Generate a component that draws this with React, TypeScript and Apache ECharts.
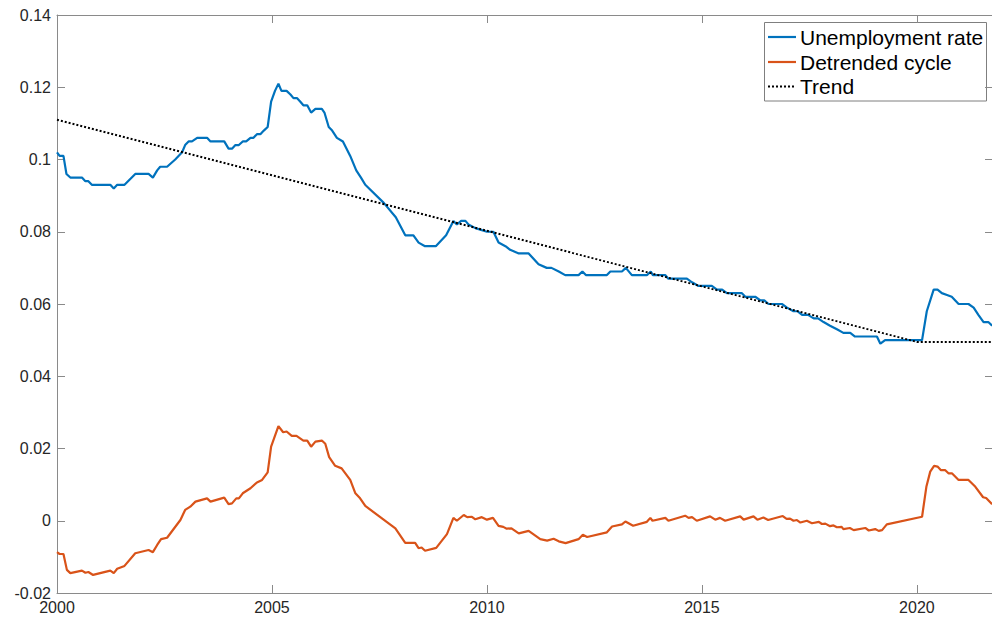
import React, { useEffect, useRef } from "react";
import * as echarts from "echarts";

// Unemployment rate (decimal year, value)
const uDates = [
  2000.0, 2000.06, 2000.15, 2000.22, 2000.31, 2000.58, 2000.66, 2000.73, 2000.81, 2001.24, 2001.32, 2001.4,
  2001.57, 2001.82, 2002.13, 2002.23, 2002.33, 2002.4, 2002.56, 2002.75, 2002.91, 2002.98, 2003.06, 2003.14,
  2003.26, 2003.49, 2003.57, 2003.89, 2003.99, 2004.07, 2004.15, 2004.23, 2004.32, 2004.4, 2004.5, 2004.57,
  2004.65, 2004.73, 2004.81, 2004.9, 2004.98, 2005.07, 2005.15, 2005.22, 2005.34, 2005.43, 2005.5, 2005.58,
  2005.66, 2005.73, 2005.82, 2005.91, 2006.01, 2006.16, 2006.22, 2006.32, 2006.4, 2006.51, 2006.65, 2006.82,
  2006.96, 2007.07, 2007.17, 2007.6, 2007.88, 2008.1, 2008.29, 2008.41, 2008.56, 2008.81, 2009.05, 2009.22,
  2009.3, 2009.4, 2009.5, 2009.57, 2009.73, 2010.0, 2010.15, 2010.27, 2010.43, 2010.54, 2010.74, 2010.97,
  2011.2, 2011.39, 2011.5, 2011.67, 2011.82, 2012.13, 2012.22, 2012.3, 2012.79, 2012.87, 2013.14, 2013.23,
  2013.37, 2013.72, 2013.81, 2013.86, 2014.15, 2014.22, 2014.65, 2014.77, 2014.92, 2015.23, 2015.35, 2015.47,
  2015.58, 2015.93, 2016.01, 2016.24, 2016.36, 2016.45, 2016.55, 2016.86, 2016.98, 2017.13, 2017.22, 2017.33,
  2017.47, 2017.6, 2017.7, 2017.83, 2017.98, 2018.14, 2018.29, 2018.45, 2018.56, 2019.07, 2019.15, 2019.26,
  2020.12, 2020.23, 2020.39, 2020.48, 2020.58, 2020.7, 2020.81, 2020.97, 2021.2, 2021.32, 2021.43, 2021.55,
  2021.66, 2021.75,
];
const uValues = [
  0.102, 0.101, 0.101, 0.096, 0.095, 0.095, 0.094, 0.094, 0.093, 0.093, 0.092, 0.093,
  0.093, 0.096, 0.096, 0.095, 0.097, 0.098, 0.098, 0.1, 0.102, 0.104, 0.105, 0.105,
  0.106, 0.106, 0.105, 0.105, 0.103, 0.103, 0.104, 0.104, 0.105, 0.105, 0.106, 0.106,
  0.107, 0.107, 0.108, 0.109, 0.116, 0.119, 0.121, 0.119, 0.119, 0.118, 0.117, 0.117,
  0.116, 0.115, 0.115, 0.113, 0.114, 0.114, 0.113, 0.109, 0.108, 0.106, 0.105, 0.101,
  0.097, 0.095, 0.093, 0.088, 0.084, 0.079, 0.079, 0.077, 0.076, 0.076, 0.079, 0.083,
  0.082, 0.083, 0.083, 0.082, 0.081, 0.08, 0.08, 0.077, 0.076, 0.075, 0.074, 0.074,
  0.071, 0.07, 0.07, 0.069, 0.068, 0.068, 0.069, 0.068, 0.068, 0.069, 0.069, 0.07,
  0.068, 0.068, 0.069, 0.068, 0.068, 0.067, 0.067, 0.066, 0.065, 0.065, 0.064, 0.064,
  0.063, 0.063, 0.062, 0.062, 0.061, 0.061, 0.06, 0.06, 0.059, 0.058, 0.058, 0.057,
  0.057, 0.056, 0.056, 0.055, 0.054, 0.053, 0.052, 0.052, 0.051, 0.051, 0.049, 0.05,
  0.05, 0.058, 0.064, 0.064, 0.063, 0.0625, 0.062, 0.06, 0.06, 0.059, 0.057, 0.055,
  0.055, 0.054,
];

// Detrended cycle
const cDates = [
  2000.0, 2000.06, 2000.15, 2000.23, 2000.31, 2000.58, 2000.66, 2000.73, 2000.84, 2001.24, 2001.32, 2001.4,
  2001.57, 2001.82, 2002.13, 2002.23, 2002.33, 2002.42, 2002.56, 2002.87, 2002.98, 2003.1, 2003.22, 2003.49,
  2003.57, 2003.89, 2003.99, 2004.07, 2004.17, 2004.23, 2004.32, 2004.5, 2004.65, 2004.77, 2004.9, 2004.98,
  2005.15, 2005.26, 2005.34, 2005.46, 2005.57, 2005.73, 2005.82, 2005.91, 2006.01, 2006.16, 2006.24, 2006.33,
  2006.47, 2006.62, 2006.82, 2006.94, 2007.05, 2007.17, 2007.87, 2008.1, 2008.33, 2008.41, 2008.48, 2008.56,
  2008.82, 2009.07, 2009.22, 2009.3, 2009.46, 2009.54, 2009.65, 2009.73, 2009.88, 2010.0, 2010.14, 2010.27,
  2010.38, 2010.46, 2010.57, 2010.74, 2010.97, 2011.24, 2011.4, 2011.55, 2011.67, 2011.83, 2012.13, 2012.23,
  2012.33, 2012.79, 2012.91, 2013.14, 2013.22, 2013.4, 2013.72, 2013.8, 2013.85, 2014.15, 2014.22, 2014.61,
  2014.69, 2014.77, 2014.88, 2015.19, 2015.31, 2015.42, 2015.54, 2015.89, 2015.97, 2016.2, 2016.29, 2016.43,
  2016.54, 2016.88, 2016.97, 2017.05, 2017.13, 2017.21, 2017.29, 2017.44, 2017.56, 2017.72, 2017.79, 2017.87,
  2017.98, 2018.06, 2018.14, 2018.25, 2018.29, 2018.44, 2018.53, 2018.8, 2018.88, 2019.03, 2019.11, 2019.19,
  2019.3, 2020.12, 2020.22, 2020.31, 2020.4, 2020.48, 2020.56, 2020.66, 2020.74, 2020.82, 2020.97, 2021.2,
  2021.36, 2021.54, 2021.61, 2021.75,
];
const cValues = [
  -0.0087, -0.0092, -0.0092, -0.0136, -0.0145, -0.0138, -0.0144, -0.0142, -0.015, -0.0138, -0.0145, -0.0133,
  -0.0125, -0.009, -0.0081, -0.0087, -0.0067, -0.0051, -0.0047, 0.0002, 0.003, 0.0039, 0.0053, 0.0062,
  0.0053, 0.0064, 0.0046, 0.0048, 0.0062, 0.0062, 0.0076, 0.009, 0.0106, 0.0113, 0.0134, 0.0205,
  0.0262, 0.0245, 0.0247, 0.0235, 0.0235, 0.0222, 0.0222, 0.0205, 0.0219, 0.0222, 0.0213, 0.0176,
  0.0152, 0.0145, 0.0113, 0.0076, 0.0062, 0.0041, -0.0021, -0.0061, -0.0061, -0.0076, -0.0074, -0.0083,
  -0.0075, -0.0037, 0.0008, 0.0, 0.0016, 0.001, 0.0011, 0.0004, 0.001, 0.0003, 0.0008, -0.0014,
  -0.0017, -0.0022, -0.0021, -0.0035, -0.0028, -0.0051, -0.0055, -0.005, -0.0057, -0.0062, -0.0051, -0.0039,
  -0.0045, -0.0032, -0.0016, -0.001, -0.0002, -0.0014, -0.0003, 0.0008, 0.0, 0.0008, 0.0, 0.0014,
  0.0008, 0.001, 0.0, 0.0012, 0.0003, 0.0008, 0.0, 0.0012, 0.0003, 0.0012, 0.0003, 0.0009,
  0.0002, 0.0013, 0.0005, 0.0006, 0.0, 0.0002, -0.0005, 0.0, -0.0007, -0.0003, -0.0009, -0.0008,
  -0.0015, -0.0013, -0.0018, -0.0017, -0.0023, -0.002, -0.0026, -0.002, -0.0027, -0.0023, -0.0028, -0.0026,
  -0.001, 0.0011, 0.0094, 0.0136, 0.0152, 0.015, 0.014, 0.014, 0.0131, 0.0131, 0.0113, 0.0113,
  0.0094, 0.0065, 0.0063, 0.0046,
];

// Trend
const tDates = [2000.0, 2020.0, 2021.77];
const tValues = [0.111, 0.0495, 0.0495];

const xTicks = [2000, 2005, 2010, 2015, 2020];
const seriesNames = ["Unemployment rate", "Detrended cycle", "Trend"];
const seriesColors = ["#0072BD", "#D95319", "#000000"];

const zip = (xs: number[], ys: number[]) => xs.map((x, i) => [x, ys[i]]);

const FONT = "'Liberation Sans', Arial, Helvetica, sans-serif";
const AXIS_COLOR = "#8a8a8a";

export default function App() {
  const ref = useRef<HTMLDivElement>(null);
  useEffect(() => {
    if (!ref.current) return;
    const chart = echarts.init(ref.current, undefined, { renderer: "svg" });
    const axisCommon = {
      axisLine: { show: true, onZero: false, lineStyle: { color: AXIS_COLOR, width: 1 } },
      axisTick: { show: true, inside: true, length: 8, lineStyle: { color: AXIS_COLOR } },
      splitLine: { show: false },
    };

    // Legend drawn with graphic elements (line samples + real text)
    const lgX = 764.5;
    const lgY = 22.5;
    const rowY = [37, 62, 86.5];
    const legendChildren: any[] = [
      {
        type: "rect",
        shape: { x: lgX, y: lgY, width: 222, height: 78.5 },
        style: { fill: "#fff", stroke: "#7f7f7f", lineWidth: 1 },
      },
    ];
    seriesNames.forEach((name, i) => {
      legendChildren.push({
        type: "line",
        shape: { x1: 768, y1: rowY[i], x2: 796, y2: rowY[i] },
        style:
          i === 2
            ? { stroke: seriesColors[i], lineWidth: 2, lineDash: [2, 2] }
            : { stroke: seriesColors[i], lineWidth: 2.2 },
      });
      legendChildren.push({
        type: "text",
        x: 800,
        y: rowY[i],
        style: {
          text: name,
          fill: "#000",
          font: `21px ${FONT}`,
          textVerticalAlign: "middle",
          verticalAlign: "middle",
        },
      });
    });

    chart.setOption({
      animation: false,
      backgroundColor: "#fff",
      textStyle: { fontFamily: FONT },
      grid: { left: 57, top: 15, right: -1, bottom: 27, containLabel: false, outerBoundsMode: "none" },
      xAxis: [
        {
          type: "value",
          min: 2000,
          max: 2021.77,
          interval: 5,
          position: "bottom",
          ...axisCommon,
          axisLabel: {
            show: true,
            margin: 6,
            fontSize: 16,
            color: "#262626",
            fontFamily: FONT,
            showMaxLabel: false,
            formatter: (v: number) => (xTicks.indexOf(Math.round(v * 100) / 100) >= 0 ? String(v) : ""),
          },
        },
        {
          type: "value",
          min: 2000,
          max: 2021.77,
          interval: 5,
          position: "top",
          ...axisCommon,
          axisLabel: { show: false },
        },
      ],
      yAxis: [
        {
          type: "value",
          min: -0.02,
          max: 0.14,
          interval: 0.02,
          position: "left",
          ...axisCommon,
          axisLabel: { show: true, margin: 6, fontSize: 16, color: "#262626", fontFamily: FONT },
        },
        {
          type: "value",
          min: -0.02,
          max: 0.14,
          interval: 0.02,
          position: "right",
          ...axisCommon,
          axisLabel: { show: false },
        },
      ],
      legend: { show: false },
      graphic: [{ type: "group", z: 100, children: legendChildren }],
      series: [
        {
          name: seriesNames[0],
          type: "line",
          data: zip(uDates, uValues),
          showSymbol: false,
          symbol: "none",
          lineStyle: { color: seriesColors[0], width: 2.2 },
          itemStyle: { color: seriesColors[0] },
          z: 3,
        },
        {
          name: seriesNames[1],
          type: "line",
          data: zip(cDates, cValues),
          showSymbol: false,
          symbol: "none",
          lineStyle: { color: seriesColors[1], width: 2.2 },
          itemStyle: { color: seriesColors[1] },
          z: 3,
        },
        {
          name: seriesNames[2],
          type: "line",
          data: zip(tDates, tValues),
          showSymbol: false,
          symbol: "none",
          lineStyle: { color: seriesColors[2], width: 2, type: [2, 2] },
          itemStyle: { color: seriesColors[2] },
          z: 4,
        },
      ],
    });
    return () => chart.dispose();
  }, []);
  return (
    <div
      ref={ref}
      style={{ position: "fixed", left: 0, top: 0, width: 992, height: 620, background: "#fff" }}
    />
  );
}
